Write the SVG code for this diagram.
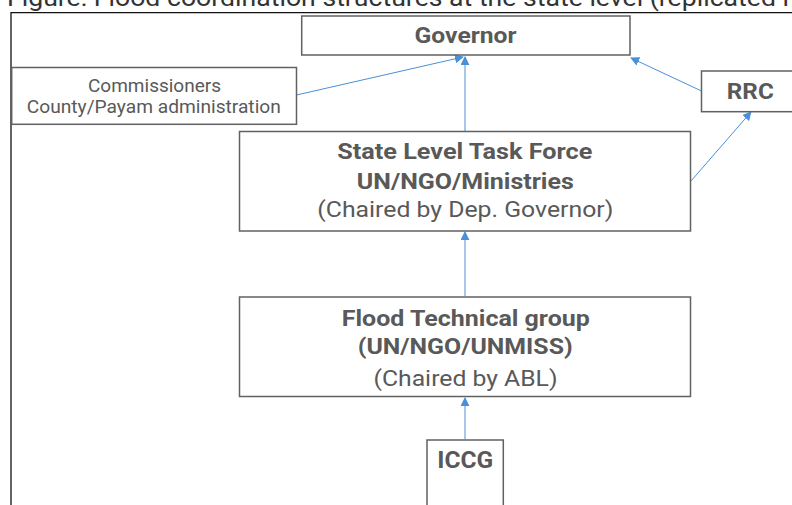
<svg xmlns="http://www.w3.org/2000/svg" width="792" height="505" viewBox="0 0 792 505">
<defs>
<style>
.box{fill:#fff;stroke:#616161;stroke-width:1.5}
.t{font-family:Roboto,"Liberation Sans",sans-serif;fill:#595959;text-anchor:middle}
.b{font-weight:bold}
.c{stroke:#4a90d9;stroke-width:1;fill:none;marker-end:url(#ah)}
</style>
<marker id="ah" viewBox="0 0 10 10" refX="9" refY="5" markerWidth="9" markerHeight="9" markerUnits="userSpaceOnUse" orient="auto">
<path d="M0,0 L10,5 L0,10 z" fill="#4a90d9"/>
</marker>
</defs>
<rect width="792" height="505" fill="#fff"/>
<text x="7" y="5.7" font-family="Roboto,'Liberation Sans',sans-serif" font-size="23" fill="#333" textLength="782" lengthAdjust="spacingAndGlyphs">Figure: Flood coordination structures at the state level (replicated i</text>
<path d="M11,520 V12.7 H800" fill="none" stroke="#111" stroke-width="1.3"/>
<g id="connectors">
<line class="c" x1="296.5" y1="95" x2="463" y2="57"/>
<line class="c" x1="465" y1="131" x2="465" y2="57"/>
<line class="c" x1="701.5" y1="91" x2="631" y2="58"/>
<line class="c" x1="691" y1="181" x2="751" y2="112"/>
<line class="c" x1="465" y1="296" x2="465" y2="232"/>
<line class="c" x1="465" y1="439" x2="465" y2="398"/>
</g>
<g id="governor">
<rect class="box" x="301.7" y="16" width="328.3" height="39"/>
<text class="t b" x="465.5" y="43.3" font-size="22" textLength="102" lengthAdjust="spacingAndGlyphs">Governor</text>
</g>
<g id="commissioners">
<rect class="box" x="11.7" y="67.5" width="284.8" height="56.8"/>
<text class="t" x="154.5" y="91.5" font-size="19" textLength="133" lengthAdjust="spacingAndGlyphs">Commissioners</text>
<text class="t" x="153.8" y="113.3" font-size="19" textLength="254" lengthAdjust="spacingAndGlyphs">County/Payam administration</text>
</g>
<g id="rrc">
<rect class="box" x="701.5" y="71" width="100" height="40.7"/>
<text class="t b" x="750.3" y="99.3" font-size="22.5" textLength="47" lengthAdjust="spacingAndGlyphs">RRC</text>
</g>
<g id="taskforce">
<rect class="box" x="239.5" y="131.5" width="451" height="99.5"/>
<text class="t b" x="464.8" y="159.3" font-size="22.5" textLength="255" lengthAdjust="spacingAndGlyphs">State Level Task Force</text>
<text class="t b" x="465.3" y="189.3" font-size="22.5" textLength="217" lengthAdjust="spacingAndGlyphs">UN/NGO/Ministries</text>
<text class="t" x="465.3" y="216.7" font-size="22.5" textLength="296" lengthAdjust="spacingAndGlyphs">(Chaired by Dep. Governor)</text>
</g>
<g id="floodgroup">
<rect class="box" x="239.5" y="297" width="451" height="99.5"/>
<text class="t b" x="465.8" y="325.7" font-size="22.5" textLength="248" lengthAdjust="spacingAndGlyphs">Flood Technical group</text>
<text class="t b" x="465.2" y="354" font-size="22.5" textLength="215" lengthAdjust="spacingAndGlyphs">(UN/NGO/UNMISS)</text>
<text class="t" x="465.5" y="386" font-size="22.5" textLength="184" lengthAdjust="spacingAndGlyphs">(Chaired by ABL)</text>
</g>
<g id="iccg">
<rect class="box" x="427" y="440" width="76.3" height="80"/>
<text class="t b" x="465.3" y="468.3" font-size="23" textLength="56" lengthAdjust="spacingAndGlyphs">ICCG</text>
</g>
</svg>
